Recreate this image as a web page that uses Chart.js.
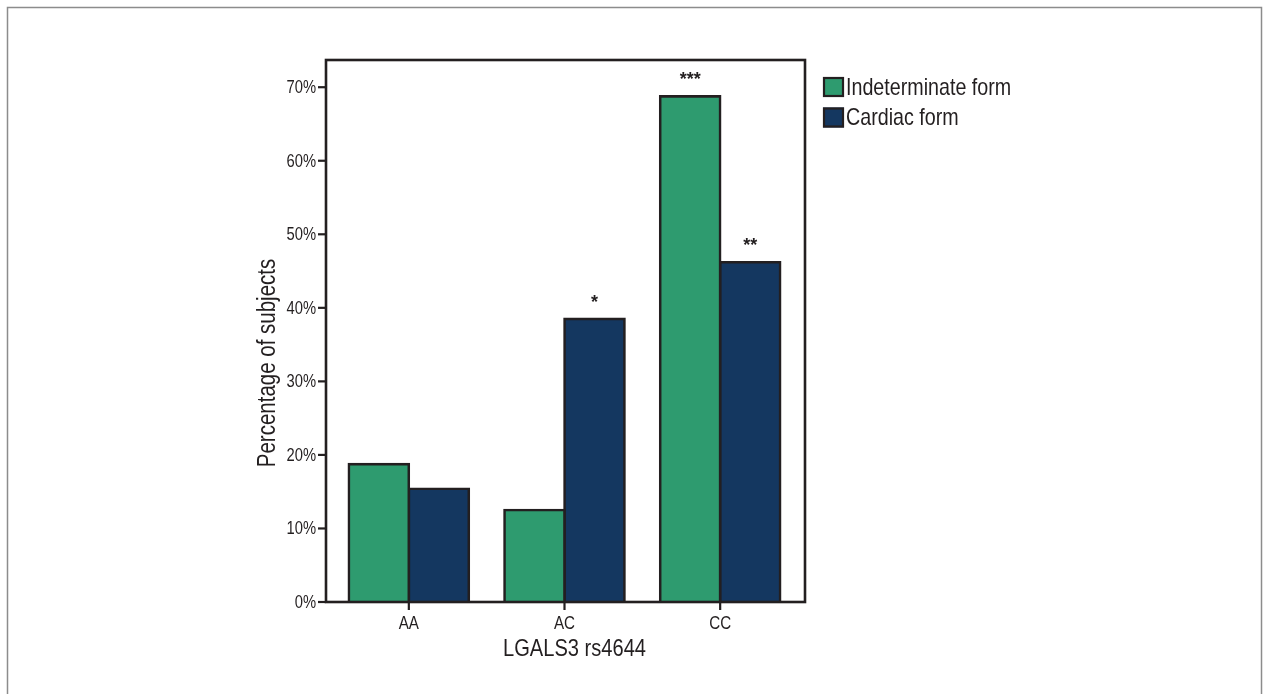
<!DOCTYPE html>
<html>
<head>
<meta charset="utf-8">
<script src="https://cdn.jsdelivr.net/npm/chart.js@4.4.1/dist/chart.umd.min.js"></script>
<style>
  html, body { margin: 0; padding: 0; background: #ffffff; }
  #wrap { position: relative; width: 1267px; height: 694px; }
  canvas { display: block; }
</style>
</head>
<body>
<div id="wrap"><canvas id="c" width="1267" height="694"></canvas></div>
<script>
// Genotype categories and percentage of subjects per clinical form
const genotypes = ['AA', 'AC', 'CC'];
const indeterminate = [18.75, 12.5, 68.75];
const cardiac = [15.4, 38.5, 46.2];
const seriesNames = ['Indeterminate form', 'Cardiac form'];
// Significance marks shown above bars (series index, category index, text)
const sigSeries = [1, 0, 1];
const sigCategory = [1, 2, 2];
const sigText = ['*', '***', '**'];
const yTickValues = [0, 10, 20, 30, 40, 50, 60, 70];
const xTitle = 'LGALS3 rs4644';
const yTitle = 'Percentage of subjects';

const GREEN = '#2e9b6f';
const NAVY = '#143760';
const EDGE = '#231f20';
const TEXT = '#231f20';
const FONT = '"Liberation Sans", Arial, Helvetica, sans-serif';
const NARROW = 0.82; // horizontal squeeze for a narrow sans look

// Draw text horizontally condensed around its anchor point
function narrowText(ctx, text, x, y, size, align, baseline, angle) {
  ctx.save();
  ctx.translate(x, y);
  if (angle) ctx.rotate(angle);
  ctx.scale(NARROW, 1);
  ctx.font = size + 'px ' + FONT;
  ctx.textAlign = align;
  ctx.textBaseline = baseline;
  ctx.fillStyle = TEXT;
  ctx.fillText(text, 0, 0);
  ctx.restore();
}

const decor = {
  id: 'decor',
  beforeDraw(chart) {
    const ctx = chart.ctx;
    ctx.save();
    // outer panel border
    ctx.strokeStyle = '#8c8c8c';
    ctx.lineWidth = 1.5;
    ctx.strokeRect(7.5, 7.5, 1254, 720);
    ctx.restore();
  },
  afterDatasetsDraw(chart) {
    const ctx = chart.ctx;
    const a = chart.chartArea;
    const ys = chart.scales.y;
    const xs = chart.scales.x;
    const fl = a.left - 5, fr = a.right + 7, ft = a.top, fb = a.bottom;
    ctx.save();
    ctx.strokeStyle = EDGE;
    ctx.lineWidth = 2.6;
    ctx.strokeRect(fl, ft, fr - fl, fb - ft);
    // y ticks and labels
    ctx.lineWidth = 2.2;
    ys.ticks.forEach(t => {
      const y = ys.getPixelForValue(t.value);
      ctx.beginPath();
      ctx.moveTo(fl - 8, y);
      ctx.lineTo(fl, y);
      ctx.stroke();
      narrowText(ctx, t.value + '%', fl - 10, y + 1, 18, 'right', 'middle');
    });
    // x ticks and labels
    xs.ticks.forEach((t, i) => {
      const x = xs.getPixelForValue(t.value);
      ctx.beginPath();
      ctx.moveTo(x, fb);
      ctx.lineTo(x, fb + 8);
      ctx.stroke();
      narrowText(ctx, xs.getLabelForValue(t.value), x, 624, 18.5, 'center', 'middle');
    });
    // significance marks
    ctx.fillStyle = TEXT;
    ctx.font = 'bold 18px ' + FONT;
    ctx.textAlign = 'center';
    ctx.textBaseline = 'alphabetic';
    sigText.forEach((t, k) => {
      const bar = chart.getDatasetMeta(sigSeries[k]).data[sigCategory[k]];
      ctx.fillText(t, bar.x, bar.y - 11);
    });
    // axis titles
    narrowText(ctx, xTitle, (a.left + a.right) / 2 + 10, 649, 24.5, 'center', 'middle');
    narrowText(ctx, yTitle, 268, 363, 25, 'center', 'middle', -Math.PI / 2);
    // legend
    const colors = [GREEN, NAVY];
    seriesNames.forEach((name, i) => {
      const by = 77 + i * 30.5;
      ctx.fillStyle = colors[i];
      ctx.fillRect(823, by, 21, 20);
      ctx.strokeStyle = EDGE;
      ctx.lineWidth = 2.2;
      ctx.strokeRect(824, by + 1, 19, 18);
      narrowText(ctx, name, 846, by + 11, 24, 'left', 'middle');
    });
    ctx.restore();
  }
};

new Chart(document.getElementById('c'), {
  type: 'bar',
  data: {
    labels: genotypes,
    datasets: [
      { label: seriesNames[0], data: indeterminate, backgroundColor: GREEN },
      { label: seriesNames[1], data: cardiac, backgroundColor: NAVY }
    ]
  },
  options: {
    responsive: false,
    devicePixelRatio: 1,
    animation: false,
    layout: { padding: { top: 60, right: 469, bottom: 0, left: 0 } },
    datasets: {
      bar: {
        borderColor: EDGE,
        borderWidth: 2.6,
        inflateAmount: 1.3,
        barPercentage: 1.0,
        categoryPercentage: 0.771
      }
    },
    plugins: {
      legend: { display: false },
      tooltip: { enabled: false },
      title: { display: false }
    },
    scales: {
      x: {
        grid: { display: false },
        border: { display: false },
        ticks: { display: false },
        afterFit(s) { s.height = 92; }
      },
      y: {
        min: 0,
        max: 73.7,
        grid: { display: false },
        border: { display: false },
        afterBuildTicks(s) { s.ticks = yTickValues.map(v => ({ value: v })); },
        ticks: { display: false },
        afterFit(s) { s.width = 331; }
      }
    }
  },
  plugins: [decor]
});
</script>
</body>
</html>
